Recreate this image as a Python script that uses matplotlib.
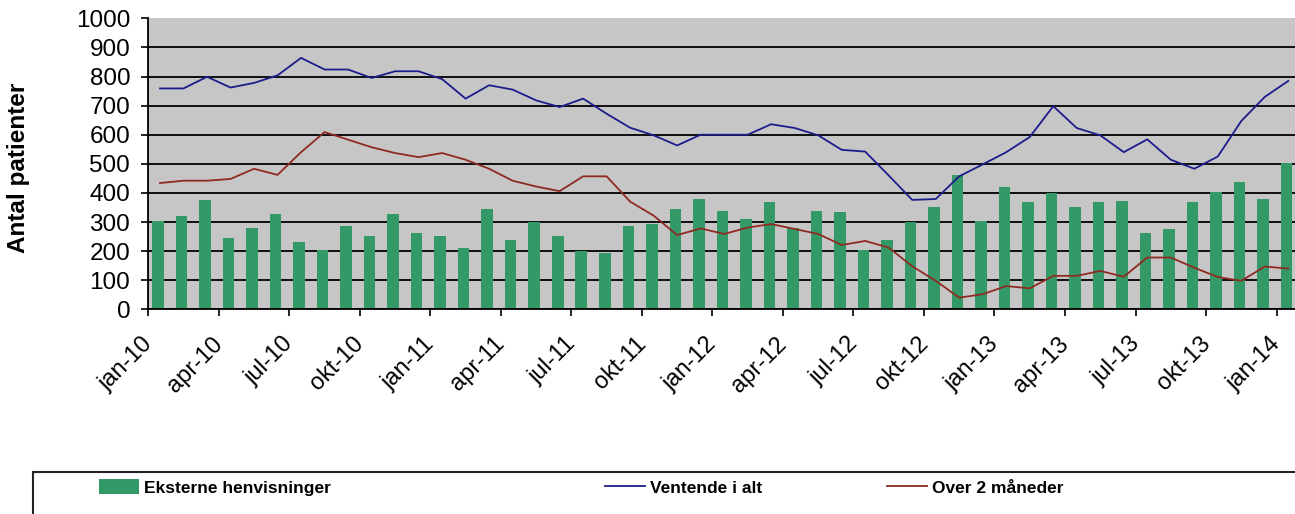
import matplotlib
matplotlib.use("Agg")
import matplotlib.pyplot as plt
import matplotlib.transforms as mtransforms
from matplotlib.patches import Rectangle

plt.rcParams['font.family'] = ['Liberation Sans', 'DejaVu Sans']

# Månedlige data jan-10 .. jan-14 (49 måneder)
maaneder = ['jan', 'feb', 'mar', 'apr', 'maj', 'jun', 'jul', 'aug', 'sep', 'okt', 'nov', 'dec']
kategorier = [f"{maaneder[m]}-{aar}" for aar in range(10, 15) for m in range(12)][:49]

eksterne = [305, 322, 376, 245, 280, 327, 233, 203, 286, 252, 327, 263,
            252, 210, 345, 239, 301, 252, 201, 192, 286, 293, 345, 379,
            339, 310, 369, 278, 339, 333, 203, 239, 301, 350, 462, 304,
            422, 369, 399, 350, 369, 373, 263, 275, 369, 402, 439, 379,
            503]

ventende = [759, 759, 799, 762, 778, 804, 864, 824, 824, 795, 818, 818,
            791, 724, 770, 755, 718, 695, 724, 672, 624, 598, 563, 600,
            600, 600, 636, 623, 598, 548, 542, 460, 376, 379, 457, 498,
            540, 592, 698, 623, 598, 540, 584, 514, 483, 525, 647, 730,
            785]

over2 = [434, 442, 442, 448, 483, 462, 540, 609, 583, 557, 537, 523,
         537, 514, 483, 442, 422, 406, 457, 457, 370, 322, 255, 278,
         259, 281, 293, 276, 259, 221, 235, 212, 148, 98, 40, 52,
         80, 72, 115, 115, 132, 112, 178, 178, 143, 111, 98, 147,
         140]

x = list(range(len(kategorier)))

fig = plt.figure(figsize=(12.95, 5.14), dpi=100)
ax = fig.add_axes([0.1145, 0.3982, 0.8894, 0.5662])
ax.set_facecolor('#c6c6c6')

b = ax.bar([i - 0.08 for i in x], eksterne, width=0.49, color='#339966', zorder=2)
l1, = ax.plot(x, ventende, color='#1c1c8c', lw=1.3, zorder=3)
l2, = ax.plot(x, over2, color='#8f2a22', lw=1.3, zorder=3)

ax.set_xlim(-0.5, 48.5)
ax.set_ylim(0, 1000)
ax.set_yticks(range(0, 1001, 100))
ax.tick_params(axis='y', labelsize=17.5, length=5, width=1.2, pad=8)
ax.yaxis.grid(True, color='black', lw=1.3, zorder=1)
ax.get_ygridlines()[-1].set_visible(False)
ax.set_axisbelow(True)

ax.set_xticks([i - 0.5 for i in x[::3]])
ax.set_xticklabels(kategorier[::3], rotation=45, ha='right', va='top',
                   rotation_mode='anchor', fontsize=17)
ax.tick_params(axis='x', length=5, width=1.2, pad=12)
flyt = mtransforms.ScaledTranslation(-0.07, 0, fig.dpi_scale_trans)
for t in ax.get_xticklabels():
    t.set_transform(t.get_transform() + flyt)

for s in ['top', 'right']:
    ax.spines[s].set_visible(False)
for s in ['left', 'bottom']:
    ax.spines[s].set_linewidth(1.3)

ax.set_ylabel('Antal patienter', fontsize=17.5, fontweight='bold')
ax.yaxis.set_label_coords(-0.1027, 0.4856)

# legende-boks nederst
fig.add_artist(Rectangle((0.0255, -0.2), 1.2, 0.2817, transform=fig.transFigure,
                         fill=False, edgecolor='#222222', lw=1.5))
poster = [(b, 'Eksterne henvisninger', 99), (l1, 'Ventende i alt', 605),
          (l2, 'Over 2 måneder', 887)]
for h, tekst, xpx in poster:
    fig.legend([h], [tekst], loc='center left', bbox_to_anchor=(xpx / 1295, 0.052),
               frameon=False, borderpad=0, borderaxespad=0, handlelength=2.3,
               handleheight=1.0, handletextpad=0.3,
               prop={'weight': 'bold', 'size': 12.5})

fig.savefig('out.png', dpi=100)
